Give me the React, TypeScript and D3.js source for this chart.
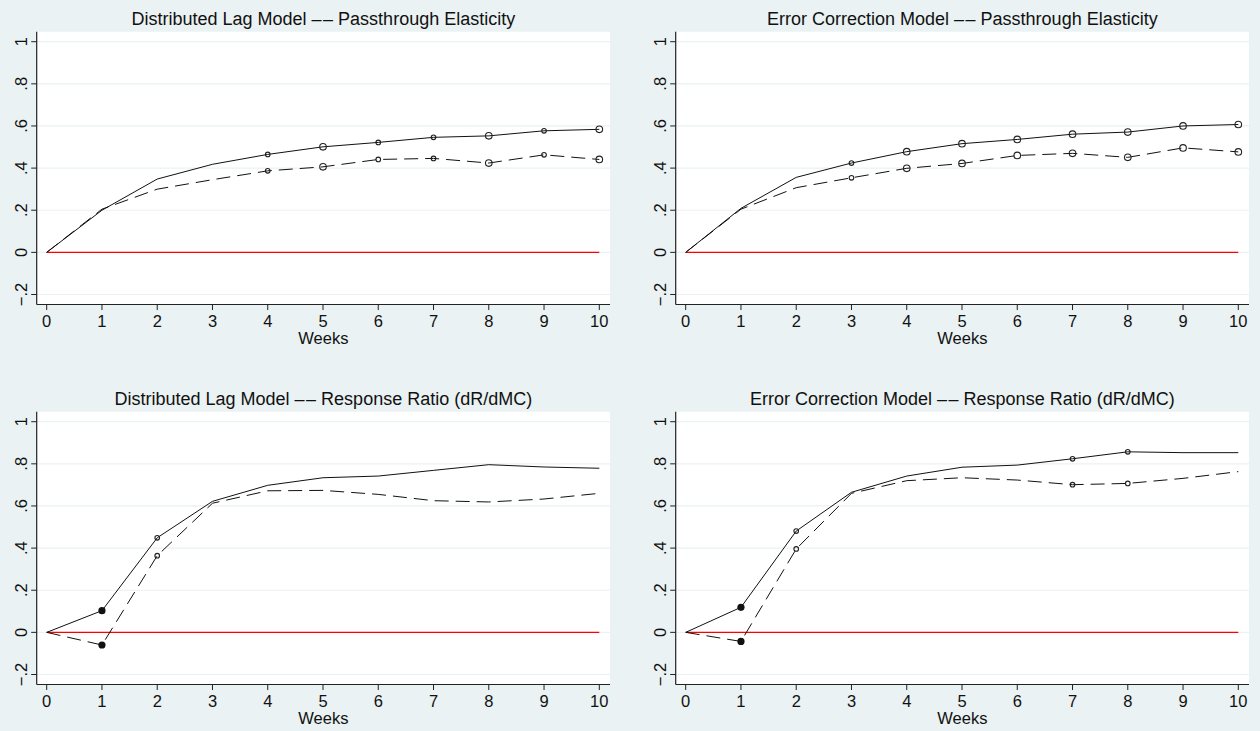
import React from "react";
import * as d3 from "d3";

const weeks = [0, 1, 2, 3, 4, 5, 6, 7, 8, 9, 10];
const yTicks = [-0.2, 0, 0.2, 0.4, 0.6, 0.8, 1];
const yTickLabels = ["\u2212.2", "0", ".2", ".4", ".6", ".8", "1"];

const titles = [
  "Distributed Lag Model \u2013\u200A\u2013 Passthrough Elasticity",
  "Error Correction Model \u2013\u200A\u2013 Passthrough Elasticity",
  "Distributed Lag Model \u2013\u200A\u2013 Response Ratio (dR/dMC)",
  "Error Correction Model \u2013\u200A\u2013 Response Ratio (dR/dMC)",
];

// Solid line = series A, dashed = series B
const dlPassSolid = [0, 0.2, 0.348, 0.418, 0.465, 0.501, 0.522, 0.546, 0.553, 0.577, 0.584];
const dlPassDash = [0, 0.205, 0.3, 0.345, 0.387, 0.406, 0.441, 0.446, 0.424, 0.463, 0.441];
const dlPassSolidMarks = ["", "", "", "", "s", "L", "s", "s", "L", "s", "L"];
const dlPassDashMarks = ["", "", "", "", "s", "L", "s", "s", "L", "s", "L"];

const ecPassSolid = [0, 0.209, 0.356, 0.424, 0.478, 0.516, 0.536, 0.561, 0.571, 0.6, 0.607];
const ecPassDash = [0, 0.205, 0.307, 0.354, 0.399, 0.422, 0.46, 0.47, 0.451, 0.496, 0.477];
const ecPassSolidMarks = ["", "", "", "s", "L", "L", "L", "L", "L", "L", "L"];
const ecPassDashMarks = ["", "", "", "s", "L", "L", "L", "L", "L", "L", "L"];

const dlRespSolid = [0, 0.103, 0.449, 0.622, 0.698, 0.734, 0.742, 0.769, 0.796, 0.785, 0.779];
const dlRespDash = [0, -0.06, 0.364, 0.613, 0.672, 0.674, 0.655, 0.625, 0.619, 0.633, 0.66];
const dlRespSolidMarks = ["", "D", "s", "", "", "", "", "", "", "", ""];
const dlRespDashMarks = ["", "D", "s", "", "", "", "", "", "", "", ""];

const ecRespSolid = [0, 0.119, 0.481, 0.665, 0.742, 0.784, 0.794, 0.824, 0.857, 0.853, 0.853];
const ecRespDash = [0, -0.043, 0.396, 0.66, 0.72, 0.734, 0.723, 0.701, 0.707, 0.731, 0.763];
const ecRespSolidMarks = ["", "D", "s", "", "", "", "", "s", "s", "", ""];
const ecRespDashMarks = ["", "D", "s", "", "", "", "", "s", "s", "", ""];

const panelsData = [
  { title: titles[0], solid: dlPassSolid, dash: dlPassDash, sm: dlPassSolidMarks, dm: dlPassDashMarks },
  { title: titles[1], solid: ecPassSolid, dash: ecPassDash, sm: ecPassSolidMarks, dm: ecPassDashMarks },
  { title: titles[2], solid: dlRespSolid, dash: dlRespDash, sm: dlRespSolidMarks, dm: dlRespDashMarks },
  { title: titles[3], solid: ecRespSolid, dash: ecRespDash, sm: ecRespSolidMarks, dm: ecRespDashMarks },
];

const BG = "#eaf2f3";
const FONT = "'Liberation Sans', Arial, Helvetica, sans-serif";

function Panel({ idx, p }: { idx: number; p: any }) {
  const col = idx % 2;
  const row = Math.floor(idx / 2);
  const ox = col === 0 ? 0 : 639;
  const oy = row * 380;
  const left = 36.7 + ox;
  const right = 610 + ox;
  const top = 31.7 + oy;
  const bottom = 304.5 + oy;
  const x = d3.scaleLinear().domain([0, 10]).range([46.7 + ox, 599.3 + ox]);
  const y = d3.scaleLinear().domain([-0.2, 1]).range([294.5 + oy, 41.7 + oy]);
  const line = d3
    .line<number>()
    .x((_, i) => x(weeks[i]))
    .y((v) => y(v));
  const cx = (left + right) / 2;

  const marks = (vals: number[], m: string[], key: string) =>
    vals.map((v, i) => {
      const t = m[i];
      if (!t) return null;
      if (t === "D")
        return <circle key={key + i} cx={x(weeks[i])} cy={y(v)} r={3.6} fill="#111" />;
      const r = t === "L" ? 3.3 : 2.3;
      return (
        <circle key={key + i} cx={x(weeks[i])} cy={y(v)} r={r} fill="none" stroke="#222" strokeWidth={1.1} />
      );
    });

  return (
    <g>
      <rect x={left} y={top} width={right - left} height={bottom - top} fill="#fff" />
      {yTicks.map((t, i) => (
        <line key={"g" + i} x1={left} x2={right} y1={y(t)} y2={y(t)} stroke={BG} strokeWidth={1.2} />
      ))}
      <line x1={left} x2={left} y1={top} y2={bottom} stroke="#222" strokeWidth={1.2} />
      <line x1={left} x2={right} y1={bottom} y2={bottom} stroke="#222" strokeWidth={1.2} />
      {yTicks.map((t, i) => (
        <g key={"yt" + i}>
          <line x1={left - 5.5} x2={left} y1={y(t)} y2={y(t)} stroke="#222" strokeWidth={1} />
          <text
            transform={`translate(${ox + 27},${y(t)}) rotate(-90)`}
            textAnchor="middle"
            fontSize={16.5}
            fontFamily={FONT}
            fill="#111"
          >
            {yTickLabels[i]}
          </text>
        </g>
      ))}
      {weeks.map((w) => (
        <g key={"xt" + w}>
          <line x1={x(w)} x2={x(w)} y1={bottom} y2={bottom + 5.5} stroke="#222" strokeWidth={1} />
          <text x={x(w)} y={oy + 326.7} textAnchor="middle" fontSize={16.5} fontFamily={FONT} fill="#111">
            {w}
          </text>
        </g>
      ))}
      <text x={cx} y={oy + 344.3} textAnchor="middle" fontSize={16.5} fontFamily={FONT} fill="#111">
        Weeks
      </text>
      <text x={cx} y={oy + 24.5} textAnchor="middle" fontSize={18} fontFamily={FONT} fill="#111">
        {p.title}
      </text>
      <line x1={x(0)} x2={x(10)} y1={y(0)} y2={y(0)} stroke="#ff0000" strokeWidth={1.4} />
      <path d={line(p.dash) || ""} fill="none" stroke="#111" strokeWidth={1} strokeDasharray="14,7" />
      <path d={line(p.solid) || ""} fill="none" stroke="#111" strokeWidth={1} />
      {marks(p.dash, p.dm, "d")}
      {marks(p.solid, p.sm, "s")}
    </g>
  );
}

export default function App() {
  return (
    <svg
      width={1260}
      height={731}
      style={{ position: "absolute", left: 0, top: 0, display: "block" }}
    >
      <rect x={0} y={0} width={1260} height={731} fill={BG} />
      {panelsData.map((p, i) => (
        <Panel key={i} idx={i} p={p} />
      ))}
    </svg>
  );
}
